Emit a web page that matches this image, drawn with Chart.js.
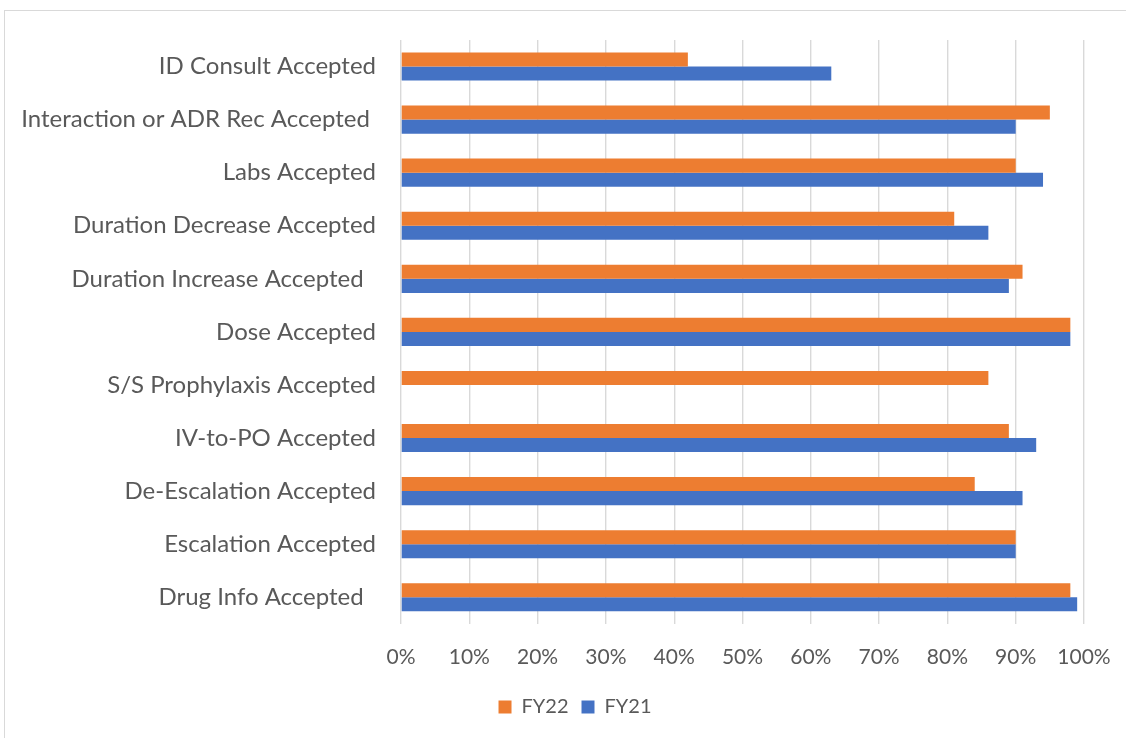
<!DOCTYPE html>
<html lang="en">
<head>
    <meta charset="UTF-8">
    <title>Interventions Accepted FY21 vs FY22</title>
    <script src="https://cdn.jsdelivr.net/npm/chart.js"></script>
    <style>
        body {
            margin: 0;
            background: #fff;
            overflow: hidden;
        }

        .chart-box {
            position: absolute;
            left: 0;
            top: 0;
            width: 1126px;
            height: 738px;
        }

        /* thin grey frame like the Excel chart area */
        .frame {
            position: absolute;
            left: 4px;
            top: 10px;
            width: 1130px;
            height: 740px;
            border: 1px solid #d9d9d9;
            pointer-events: none;
        }
    </style>
</head>
<body>
    <div class="chart-box">
        <canvas id="acceptChart" width="1126" height="738"></canvas>
    </div>
    <div class="frame"></div>

    <script>
        // categories, top to bottom
        const categories = [
            'ID Consult Accepted',
            'Interaction or ADR Rec Accepted ',
            'Labs Accepted',
            'Duration Decrease Accepted',
            'Duration Increase Accepted  ',
            'Dose Accepted',
            'S/S Prophylaxis Accepted',
            'IV-to-PO Accepted',
            'De-Escalation Accepted',
            'Escalation Accepted',
            'Drug Info Accepted  '
        ];

        // percent accepted
        const fy22 = [42, 95, 90, 81, 91, 98, 86, 89, 84, 90, 98];
        const fy21 = [63, 90, 94, 86, 89, 98, null, 93, 91, 90, 99];

        const xTicks = [0, 10, 20, 30, 40, 50, 60, 70, 80, 90, 100];

        const textColor = '#595959';
        const fontFamily = 'Lato, "Open Sans", sans-serif';

        // legend: a bit right of centre, and tighter under the axis than chart.js makes it
        const legendTweak = {
            id: 'legendTweak',
            beforeLayout(chart) {
                const lg = chart.legend;
                if (lg && !lg._tweaked) {
                    const fit = lg.fit;
                    lg.fit = function () {
                        fit.call(this);
                        this.height -= 7;
                    };
                    lg._tweaked = true;
                }
            },
            afterLayout(chart) {
                chart.legend.left += 33;
                chart.legend.right += 33;
                chart.legend.top -= 7;
            }
        };

        const ctx = document.getElementById('acceptChart').getContext('2d');
        const acceptChart = new Chart(ctx, {
            type: 'bar',
            data: {
                labels: categories,
                datasets: [{
                    label: 'FY22',
                    data: fy22,
                    backgroundColor: '#ed7d31',
                    barPercentage: 1,
                    categoryPercentage: 0.53
                }, {
                    label: 'FY21',
                    data: fy21,
                    backgroundColor: '#4472c4',
                    barPercentage: 1,
                    categoryPercentage: 0.53
                }]
            },
            options: {
                indexAxis: 'y',
                responsive: false,
                animation: false,
                layout: {
                    padding: { left: 0, right: 42, top: 40, bottom: 11 }
                },
                scales: {
                    x: {
                        min: 0,
                        max: 100,
                        afterBuildTicks: (scale) => {
                            scale.ticks = xTicks.map(v => ({ value: v }));
                        },
                        afterFit: (scale) => {
                            // let the layout padding alone decide where 100% sits
                            scale.paddingLeft = 0;
                            scale.paddingRight = 0;
                        },
                        ticks: {
                            color: textColor,
                            font: { family: fontFamily, size: 21 },
                            padding: 21,
                            callback: (v) => v + '%'
                        },
                        grid: {
                            color: '#d9d9d9',
                            lineWidth: 1.4,
                            drawTicks: false
                        },
                        border: { display: false }
                    },
                    y: {
                        afterFit: (scale) => {
                            scale.width = 401;
                        },
                        ticks: {
                            color: textColor,
                            font: { family: fontFamily, size: 24 },
                            padding: 25
                        },
                        grid: { display: false, drawTicks: false },
                        border: { display: false }
                    }
                },
                plugins: {
                    legend: {
                        position: 'bottom',
                        labels: {
                            color: textColor,
                            font: { family: fontFamily, size: 20 },
                            boxWidth: 13,
                            boxHeight: 13,
                            padding: 13
                        }
                    },
                    tooltip: { enabled: false }
                }
            },
            plugins: [legendTweak]
        });
    </script>
</body>
</html>
